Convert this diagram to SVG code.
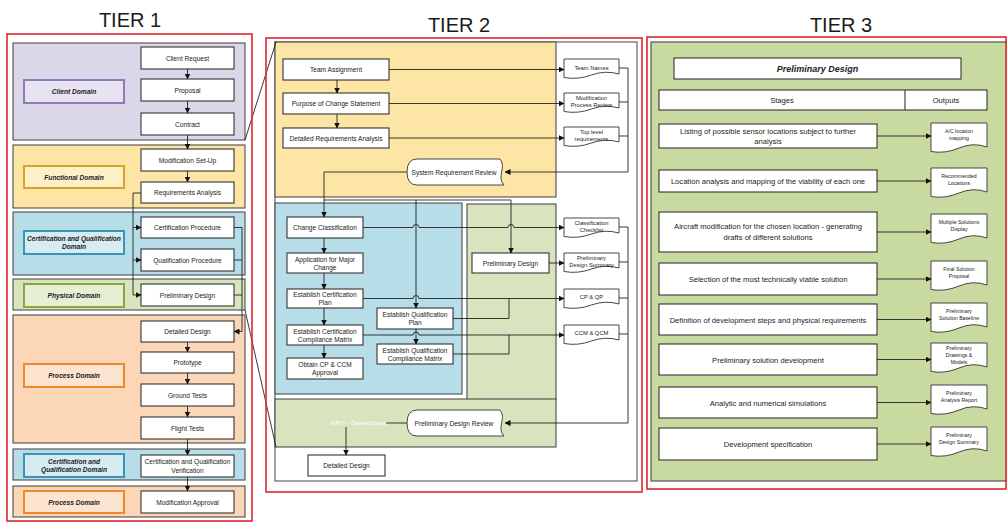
<svg xmlns="http://www.w3.org/2000/svg" width="1007" height="522" viewBox="0 0 1007 522">
  <style>
    text { font-family: "Liberation Sans", Arial, sans-serif; fill: #222; text-anchor: middle; }
    .title { font-size: 20px; fill: #1a1a1a; }
    .t7 { font-size: 6.6px; }
    .t6 { font-size: 5.8px; }
    .t5 { font-size: 5.2px; }
    .t8 { font-size: 7.6px; }
    .lbl { font-size: 6.6px; font-weight: bold; font-style: italic; }
    .tier { fill: none; stroke: #e0262b; stroke-width: 1.6; }
    .panel { stroke: #4d4d4d; stroke-width: 1.1; }
    .box { fill: #fff; stroke: #333; stroke-width: 1.1; }
    .doc { fill: #fff; stroke: #333; stroke-width: 0.9; }
    .wire { fill: none; stroke: #222; stroke-width: 0.9; }
    .arr { fill: none; stroke: #222; stroke-width: 0.9; marker-end: url(#ah); }
  </style>
  <defs>
    <marker id="ah" markerWidth="6" markerHeight="6" refX="5.5" refY="3" orient="auto" markerUnits="userSpaceOnUse">
      <path d="M0,0 L6,3 L0,6 Z" fill="#111"/>
    </marker>
    <path id="doc2" d="M0,0 H55 V15 Q41,11 27.5,16 T0,18.5 Z"/>
    <path id="doc3" d="M0,0 H56 V24 Q42,19 28,25 T0,28.5 Z"/>
    <path id="term" d="M10,0 H93 C100,8 89,18 97,26 H10 Q0,26 0,13 Q0,0 10,0 Z"/>
  </defs>

  <!-- tier headings -->
  <text class="title" x="130" y="27">TIER 1</text>
  <text class="title" x="459" y="32">TIER 2</text>
  <text class="title" x="841" y="32">TIER 3</text>

  <!-- ===================== TIER 1 ===================== -->
  <g id="tier1-panels">
    <rect class="panel" x="13" y="43" width="232" height="97" fill="#dcd7e8"/>
    <rect class="panel" x="13" y="145" width="232" height="63" fill="#fde5a6"/>
    <rect class="panel" x="13" y="212" width="232" height="63" fill="#b7dde8"/>
    <rect class="panel" x="13" y="279" width="232" height="31" fill="#d8e4bd"/>
    <rect class="panel" x="13" y="315" width="232" height="128" fill="#fbd6b7"/>
    <rect class="panel" x="13" y="449" width="232" height="31" fill="#b7dde8"/>
    <rect class="panel" x="13" y="486" width="232" height="31" fill="#fbd6b7"/>
  </g>

  <g id="client-domain"><rect x="24" y="80" width="100" height="23" fill="#e8e3f2" stroke="#8b7bb8" stroke-width="2"/><text class="lbl" x="74" y="94">Client Domain</text></g>
  <g id="functional-domain"><rect x="24" y="166" width="100" height="22" fill="#fdf0c6" stroke="#d1a62a" stroke-width="2"/><text class="lbl" x="74" y="179.5">Functional Domain</text></g>
  <g id="certqual-domain"><rect x="24" y="231" width="100" height="23" fill="#d6ebf2" stroke="#3a94b3" stroke-width="2"/><text class="lbl" x="74" y="240.5">Certification and Qualification</text><text class="lbl" x="74" y="248.5">Domain</text></g>
  <g id="physical-domain"><rect x="24" y="284" width="100" height="23" fill="#e6eed4" stroke="#86a83c" stroke-width="2"/><text class="lbl" x="74" y="298">Physical Domain</text></g>
  <g id="process-domain"><rect x="24" y="364" width="100" height="23" fill="#fde4d0" stroke="#f0872a" stroke-width="2"/><text class="lbl" x="74" y="378">Process Domain</text></g>
  <g id="certqual-domain-2"><rect x="24" y="454" width="100" height="23" fill="#d6ebf2" stroke="#3a94b3" stroke-width="2"/><text class="lbl" x="74" y="463.5">Certification and</text><text class="lbl" x="74" y="471.5">Qualification Domain</text></g>
  <g id="process-domain-2"><rect x="24" y="491" width="100" height="22" fill="#fde4d0" stroke="#f0872a" stroke-width="2"/><text class="lbl" x="74" y="504.5">Process Domain</text></g>

  <g id="t1-client-request"><rect class="box" x="141" y="47" width="93" height="22"/><text class="t7" x="187.5" y="60.5">Client Request</text></g>
  <g id="t1-proposal"><rect class="box" x="141" y="79" width="93" height="22"/><text class="t7" x="187.5" y="92.5">Proposal</text></g>
  <g id="t1-contract"><rect class="box" x="141" y="113" width="93" height="22"/><text class="t7" x="187.5" y="126.5">Contract</text></g>
  <g id="t1-mod-setup"><rect class="box" x="141" y="149" width="93" height="22"/><text class="t7" x="187.5" y="162.5">Modification Set-Up</text></g>
  <g id="t1-req-analysis"><rect class="box" x="141" y="182" width="93" height="21"/><text class="t7" x="187.5" y="195">Requirements Analysis</text></g>
  <g id="t1-cert-proc"><rect class="box" x="141" y="217" width="93" height="21"/><text class="t7" x="187.5" y="230">Certification Procedure</text></g>
  <g id="t1-qual-proc"><rect class="box" x="141" y="249" width="93" height="22"/><text class="t7" x="187.5" y="262.5">Qualification Procedure</text></g>
  <g id="t1-prelim-design"><rect class="box" x="141" y="284" width="93" height="22"/><text class="t7" x="187.5" y="297.5">Preliminary Design</text></g>
  <g id="t1-detailed-design"><rect class="box" x="141" y="321" width="93" height="21"/><text class="t7" x="187.5" y="334">Detailed Design</text></g>
  <g id="t1-prototype"><rect class="box" x="141" y="352" width="93" height="21"/><text class="t7" x="187.5" y="365">Prototype</text></g>
  <g id="t1-ground-tests"><rect class="box" x="141" y="384" width="93" height="22"/><text class="t7" x="187.5" y="397.5">Ground Tests</text></g>
  <g id="t1-flight-tests"><rect class="box" x="141" y="417" width="93" height="22"/><text class="t7" x="187.5" y="430.5">Flight Tests</text></g>
  <g id="t1-verification"><rect class="box" x="141" y="455" width="93" height="22"/><text class="t7" x="187.5" y="464">Certification and Qualification</text><text class="t7" x="187.5" y="472.5">Verification</text></g>
  <g id="t1-mod-approval"><rect class="box" x="141" y="491" width="93" height="22"/><text class="t7" x="187.5" y="504.5">Modification Approval</text></g>

  <!-- ===================== TIER 2 ===================== -->
  <g id="tier2-panels">
    <rect x="275" y="42" width="362" height="439" fill="#fff" stroke="#555" stroke-width="1.1"/>
    <rect class="panel" x="275" y="42" width="281" height="155" fill="#fde5a6"/>
    <rect class="panel" x="275" y="203" width="187" height="191" fill="#b7dde8"/>
    <rect class="panel" x="467" y="204" width="89" height="196" fill="#d8e4bd"/>
    <rect class="panel" x="275" y="399" width="281" height="48" fill="#d8e4bd"/>
  </g>

  <g id="t2-team-assignment"><rect class="box" x="283" y="59" width="106" height="21"/><text class="t7" x="336" y="72">Team Assignment</text></g>
  <g id="t2-purpose"><rect class="box" x="283" y="93" width="106" height="21"/><text class="t7" x="336" y="106">Purpose of Change Statement</text></g>
  <g id="t2-detailed-req"><rect class="box" x="283" y="128" width="106" height="20"/><text class="t7" x="336" y="140.5">Detailed Requirements Analysis</text></g>
  <g id="t2-srr"><use href="#term" x="407" y="159" class="doc"/><text class="t7" x="454" y="174.5">System Requirement Review</text></g>

  <g id="t2-team-names"><use href="#doc2" x="564" y="59" class="doc"/><text class="t6" x="591.5" y="70">Team Names</text></g>
  <g id="t2-mpr"><use href="#doc2" x="564" y="93" class="doc"/><text class="t6" x="591.5" y="100">Modification</text><text class="t6" x="591.5" y="107">Process Review</text></g>
  <g id="t2-tlr"><use href="#doc2" x="564" y="127" class="doc"/><text class="t6" x="591.5" y="134">Top level</text><text class="t6" x="591.5" y="141">requirements</text></g>

  <g id="t2-change-class"><rect class="box" x="287" y="217" width="76" height="21"/><text class="t7" x="325" y="230">Change Classification</text></g>
  <g id="t2-app-major"><rect class="box" x="287" y="253" width="76" height="20"/><text class="t7" x="325" y="261.5">Application for Major</text><text class="t7" x="325" y="269.5">Change</text></g>
  <g id="t2-est-cert-plan"><rect class="box" x="287" y="289" width="76" height="19"/><text class="t7" x="325" y="297">Establish Certification</text><text class="t7" x="325" y="305">Plan</text></g>
  <g id="t2-est-cert-cm"><rect class="box" x="287" y="325" width="76" height="20"/><text class="t7" x="325" y="333.5">Establish Certification</text><text class="t7" x="325" y="341.5">Compliance Matrix</text></g>
  <g id="t2-obtain"><rect class="box" x="287" y="358" width="76" height="21"/><text class="t7" x="325" y="367">Obtain CP &amp; CCM</text><text class="t7" x="325" y="375">Approval</text></g>
  <g id="t2-est-qual-plan"><rect class="box" x="377" y="308" width="76" height="21"/><text class="t7" x="415" y="316.5">Establish Qualification</text><text class="t7" x="415" y="324.5">Plan</text></g>
  <g id="t2-est-qual-cm"><rect class="box" x="377" y="344" width="76" height="20"/><text class="t7" x="415" y="352.5">Establish Qualification</text><text class="t7" x="415" y="360.5">Compliance Matrix</text></g>
  <g id="t2-prelim-design"><rect class="box" x="472" y="253" width="77" height="20"/><text class="t7" x="510.5" y="265.5">Preliminary Design</text></g>

  <g id="t2-class-checklist"><use href="#doc2" x="564" y="218" class="doc"/><text class="t6" x="591.5" y="224.5">Classification</text><text class="t6" x="591.5" y="231.5">Checklist</text></g>
  <g id="t2-pds"><use href="#doc2" x="564" y="253" class="doc"/><text class="t6" x="591.5" y="259.5">Preliminary</text><text class="t6" x="591.5" y="266.5">Design Summary</text></g>
  <g id="t2-cpqp"><use href="#doc2" x="564" y="289" class="doc"/><text class="t6" x="591.5" y="299">CP &amp; QP</text></g>
  <g id="t2-ccmqcm"><use href="#doc2" x="564" y="325" class="doc"/><text class="t6" x="591.5" y="335">CCM &amp; QCM</text></g>

  <g id="t2-pdr"><use href="#term" x="407" y="410" class="doc" transform="translate(0,0)"/><text class="t7" x="454" y="426">Preliminary Design Review</text></g>
  <g id="t2-input-label"><text class="t5" x="359" y="425" style="fill:#fff">INPUT – Detailed Design</text></g>
  <g id="t2-detailed-design"><rect class="box" x="308" y="455" width="77" height="21"/><text class="t7" x="346.5" y="468">Detailed Design</text></g>

  <!-- ===================== TIER 3 ===================== -->
  <g id="tier3-panel">
    <rect x="651" y="42" width="360" height="439" fill="#c8da9f" stroke="#444" stroke-width="1.1"/>
  </g>
  <g id="t3-header"><rect class="box" x="674" y="58" width="287" height="21"/><text x="817.5" y="72" style="font-size:9px;font-weight:bold;font-style:italic">Preliminary Design</text></g>
  <g id="t3-columns">
    <rect class="box" x="659" y="90" width="328" height="20"/>
    <line x1="905" y1="90" x2="905" y2="110" stroke="#333" stroke-width="1.1"/>
    <text class="t8" x="782" y="103">Stages</text>
    <text class="t8" x="946" y="103">Outputs</text>
  </g>

  <g id="t3-stage1"><rect class="box" x="659" y="124" width="218" height="24"/><text class="t8" x="768" y="134">Listing of possible sensor locations subject to further</text><text class="t8" x="768" y="144">analysis</text></g>
  <g id="t3-stage2"><rect class="box" x="659" y="170" width="218" height="22"/><text class="t8" x="768" y="184">Location analysis and mapping of the viability of each one</text></g>
  <g id="t3-stage3"><rect class="box" x="659" y="212" width="218" height="40"/><text class="t8" x="768" y="229">Aircraft modification for the chosen location - generating</text><text class="t8" x="768" y="240">drafts of different solutions</text></g>
  <g id="t3-stage4"><rect class="box" x="659" y="263" width="218" height="32"/><text class="t8" x="768" y="282">Selection of the most technically viable solution</text></g>
  <g id="t3-stage5"><rect class="box" x="659" y="304" width="218" height="31"/><text class="t8" x="768" y="322.5">Definition of development steps and physical requirements</text></g>
  <g id="t3-stage6"><rect class="box" x="659" y="344" width="218" height="31"/><text class="t8" x="768" y="362.5">Preliminary solution development</text></g>
  <g id="t3-stage7"><rect class="box" x="659" y="387" width="218" height="31"/><text class="t8" x="768" y="405.5">Analytic and numerical simulations</text></g>
  <g id="t3-stage8"><rect class="box" x="659" y="428" width="218" height="32"/><text class="t8" x="768" y="446.5">Development specification</text></g>

  <g id="t3-out1"><use href="#doc3" x="931" y="123" class="doc"/><text class="t5" x="959" y="133">A/C location</text><text class="t5" x="959" y="140">mapping</text></g>
  <g id="t3-out2"><use href="#doc3" x="931" y="168" class="doc"/><text class="t5" x="959" y="178">Recommended</text><text class="t5" x="959" y="185">Locations</text></g>
  <g id="t3-out3"><use href="#doc3" x="931" y="214" class="doc"/><text class="t5" x="959" y="224">Multiple Solutions</text><text class="t5" x="959" y="231">Display</text></g>
  <g id="t3-out4"><use href="#doc3" x="931" y="261" class="doc"/><text class="t5" x="959" y="271">Final Solution</text><text class="t5" x="959" y="278">Proposal</text></g>
  <g id="t3-out5"><use href="#doc3" x="931" y="303" class="doc"/><text class="t5" x="959" y="313">Preliminary</text><text class="t5" x="959" y="320">Solution Baseline</text></g>
  <g id="t3-out6"><use href="#doc3" x="931" y="343" class="doc"/><text class="t5" x="959" y="350">Preliminary</text><text class="t5" x="959" y="357">Drawings &amp;</text><text class="t5" x="959" y="364">Models</text></g>
  <g id="t3-out7"><use href="#doc3" x="931" y="385" class="doc"/><text class="t5" x="959" y="395">Preliminary</text><text class="t5" x="959" y="402">Analysis Report</text></g>
  <g id="t3-out8"><use href="#doc3" x="931" y="427" class="doc"/><text class="t5" x="959" y="437">Preliminary</text><text class="t5" x="959" y="444">Design Summary</text></g>

  <!-- ===================== CONNECTORS ===================== -->
  <g id="connectors">
    <!-- tier 1 main chain -->
    <line class="arr" x1="187.5" y1="69" x2="187.5" y2="79"/>
    <line class="arr" x1="187.5" y1="101" x2="187.5" y2="113"/>
    <line class="arr" x1="187.5" y1="135" x2="187.5" y2="149"/>
    <line class="arr" x1="187.5" y1="171" x2="187.5" y2="182"/>
    <line class="arr" x1="187.5" y1="342" x2="187.5" y2="352"/>
    <line class="arr" x1="187.5" y1="373" x2="187.5" y2="384"/>
    <line class="arr" x1="187.5" y1="406" x2="187.5" y2="417"/>
    <line class="arr" x1="187.5" y1="439" x2="187.5" y2="455"/>
    <line class="arr" x1="187.5" y1="477" x2="187.5" y2="491"/>
    <!-- tier 1 requirement fan-out -->
    <polyline class="wire" points="141,193 133,193 133,295"/>
    <line class="arr" x1="133" y1="227.5" x2="141" y2="227.5"/>
    <line class="arr" x1="133" y1="260" x2="141" y2="260"/>
    <line class="arr" x1="133" y1="295" x2="141" y2="295"/>
    <!-- tier 1 fan-in to detailed design -->
    <polyline class="wire" points="234,227.5 242,227.5 242,331.5"/>
    <line class="wire" x1="234" y1="260" x2="242" y2="260"/>
    <line class="wire" x1="234" y1="295" x2="242" y2="295"/>
    <line class="arr" x1="242" y1="331.5" x2="234" y2="331.5"/>

    <!-- zoom guide lines -->
    <line class="wire" x1="245" y1="140" x2="276" y2="42"/>
    <line class="wire" x1="245" y1="310" x2="276" y2="447"/>

    <!-- tier 2 upper chain -->
    <line class="arr" x1="337" y1="80" x2="337" y2="93"/>
    <line class="arr" x1="337" y1="114" x2="337" y2="128"/>
    <line class="arr" x1="389" y1="69.5" x2="564" y2="69.5"/>
    <line class="arr" x1="389" y1="103.5" x2="564" y2="103.5"/>
    <line class="arr" x1="389" y1="138" x2="564" y2="138"/>
    <polyline class="wire" points="619,68 628,68 628,172"/>
    <line class="wire" x1="619" y1="102" x2="628" y2="102"/>
    <line class="wire" x1="619" y1="136" x2="628" y2="136"/>
    <line class="arr" x1="628" y1="172" x2="505" y2="172"/>

    <!-- system requirement review fan-out -->
    <polyline class="wire" points="407,172 324,172 324,200"/>
    <line class="arr" x1="324" y1="200" x2="324" y2="217"/>
    <line class="wire" x1="324" y1="200" x2="511" y2="200"/>
    <path class="arr" d="M416,200 V308"/>
    <path class="arr" d="M511,200 V253"/>

    <!-- change classification to checklist (with jumps) -->
    <path class="arr" d="M363,227.5 H413 A3,3 0 0 1 419,227.5 H508 A3,3 0 0 1 514,227.5 H564"/>
    <line class="arr" x1="549" y1="263" x2="564" y2="263"/>

    <!-- certification column -->
    <line class="arr" x1="324" y1="238" x2="324" y2="253"/>
    <line class="arr" x1="324" y1="273" x2="324" y2="289"/>
    <line class="arr" x1="324" y1="308" x2="324" y2="325"/>
    <line class="arr" x1="324" y1="345" x2="324" y2="358"/>
    <line class="arr" x1="416" y1="329" x2="416" y2="344"/>

    <!-- plans to CP & QP -->
    <path class="arr" d="M363,298.5 H413 A3,3 0 0 1 419,298.5 H564"/>
    <polyline class="wire" points="453,318.5 509,318.5 509,298.5"/>
    <!-- matrices to CCM & QCM -->
    <path class="arr" d="M363,335 H413 A3,3 0 0 1 419,335 H564"/>
    <polyline class="wire" points="453,354 509,354 509,335"/>

    <!-- outputs to preliminary design review -->
    <polyline class="wire" points="619,227 628,227 628,423"/>
    <line class="wire" x1="619" y1="262" x2="628" y2="262"/>
    <line class="wire" x1="619" y1="298" x2="628" y2="298"/>
    <line class="wire" x1="619" y1="334" x2="628" y2="334"/>
    <line class="arr" x1="628" y1="423" x2="505" y2="423"/>

    <!-- review to detailed design -->
    <line class="wire" x1="407" y1="423" x2="386" y2="423"/>
    <line class="arr" x1="346" y1="427" x2="346" y2="455"/>

    <!-- tier 3 stages to outputs -->
    <line class="arr" x1="877" y1="136" x2="931" y2="136"/>
    <line class="arr" x1="877" y1="181" x2="931" y2="181"/>
    <line class="arr" x1="877" y1="232" x2="931" y2="232"/>
    <line class="arr" x1="877" y1="279" x2="931" y2="279"/>
    <line class="arr" x1="877" y1="319.5" x2="931" y2="319.5"/>
    <line class="arr" x1="877" y1="359.5" x2="931" y2="359.5"/>
    <line class="arr" x1="877" y1="402.5" x2="931" y2="402.5"/>
    <line class="arr" x1="877" y1="444" x2="931" y2="444"/>
  </g>

  <!-- tier frames -->
  <rect class="tier" x="7" y="34" width="245" height="487"/>
  <rect class="tier" x="266" y="38" width="376" height="454"/>
  <rect class="tier" x="647" y="37" width="359" height="452"/>
</svg>
